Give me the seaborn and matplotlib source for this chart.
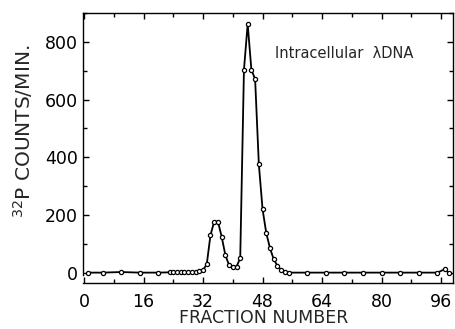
import pandas as pd
import matplotlib
matplotlib.use("Agg")
import matplotlib.pyplot as plt
import seaborn as sns
from matplotlib.ticker import MultipleLocator

# fraction number vs 32P counts/min
fractions = [1, 5, 10, 15, 20, 23, 24, 25, 26, 27, 28, 29, 30, 31, 32, 33, 34, 35,
             36, 37, 38, 39, 40, 41, 42, 43, 44, 45, 46, 47, 48, 49, 50, 51, 52, 53,
             54, 55, 60, 65, 70, 75, 80, 85, 90, 95, 97, 98]
counts = [0, 0, 2, 0, 0, 1, 2, 3, 2, 3, 2, 2, 3, 5, 9, 29, 130, 177,
          177, 125, 61, 26, 21, 21, 50, 703, 862, 703, 671, 376, 220, 137, 85, 46, 24, 9,
          2, 0, 0, 0, 0, 0, 0, 0, 0, 0, 12, 0]

x_major = [0, 16, 32, 48, 64, 80, 96]
y_major = [0, 200, 400, 600, 800]

df = pd.DataFrame({"fraction": fractions, "counts": counts})

sns.set_style("ticks")
plt.rcParams["font.family"] = ["DejaVu Sans"]
plt.rcParams["mathtext.fontset"] = "dejavusans"

fig = plt.figure(figsize=(4.55, 3.29), dpi=100)
ax = fig.add_axes([83 / 455, 1 - 283 / 329, 370 / 455, 270 / 329])

sns.lineplot(data=df, x="fraction", y="counts", ax=ax, color="black", linewidth=1.3,
             marker="o", markersize=3.0, markerfacecolor="white",
             markeredgecolor="black", markeredgewidth=0.9)

ax.set_xlim(-0.27, 99.2)
ax.set_ylim(-36, 900)
ax.set_xticks(x_major)
ax.set_yticks(y_major)
ax.xaxis.set_minor_locator(MultipleLocator(8))
ax.yaxis.set_minor_locator(MultipleLocator(100))

ax.tick_params(which="both", direction="in", top=True, right=True, width=1, colors="black")
ax.tick_params(which="major", length=4)
ax.tick_params(which="minor", length=3)
ax.tick_params(axis="x", labelsize=12.5, pad=7)
ax.tick_params(axis="y", labelsize=12.5, pad=3.6)

for s in ax.spines.values():
    s.set_linewidth(1.0)
    s.set_color("black")
ax.spines["left"].set_bounds(-8, 900)

ax.set_xlabel("FRACTION NUMBER", fontsize=12.5)
ax.set_ylabel(r"$^{32}$P COUNTS/MIN.", fontsize=14.5)
ax.xaxis.set_label_coords(0.489, -0.098)
ax.yaxis.set_label_coords(-0.13, 0.56)

ax.text(51.3, 761, "Intracellular  λDNA", va="center", ha="left", fontsize=10.5,
        fontweight="medium")

fig.savefig("out.png", dpi=100)
